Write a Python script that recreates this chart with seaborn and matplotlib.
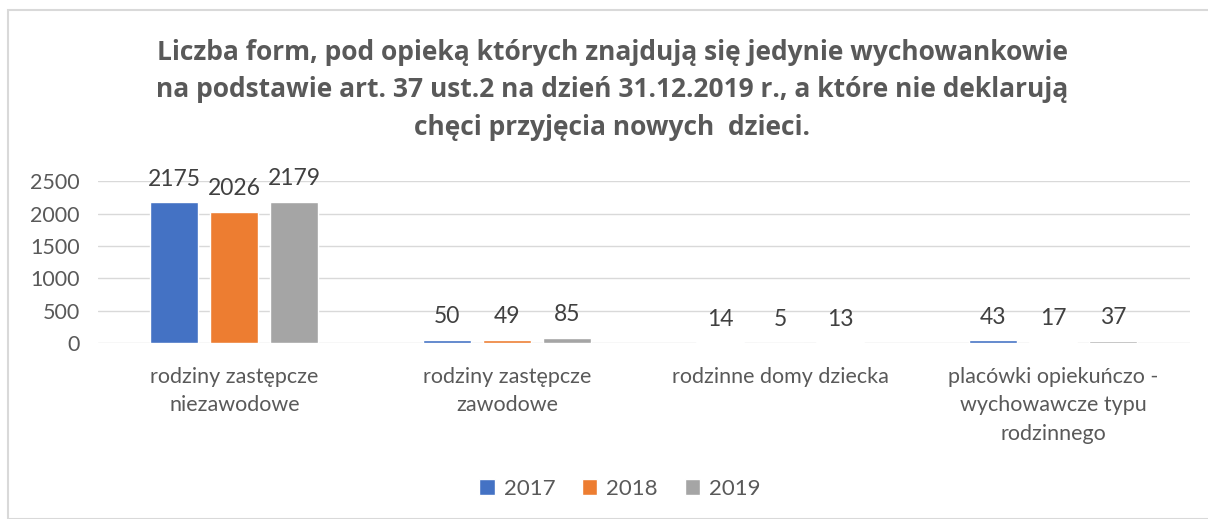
import matplotlib.pyplot as plt
import seaborn as sns
import pandas as pd
from matplotlib.patches import Rectangle

# data
categories = [
    "rodziny zastępcze\nniezawodowe",
    "rodziny zastępcze\nzawodowe",
    "rodzinne domy dziecka",
    "placówki opiekuńczo -\nwychowawcze typu\nrodzinnego",
]
years = ["2017", "2018", "2019"]
values_2017 = [2175, 50, 14, 43]
values_2018 = [2026, 49, 5, 17]
values_2019 = [2179, 85, 13, 37]
colors = ["#4472C4", "#ED7D31", "#A5A5A5"]

title = ("Liczba form, pod opieką których znajdują się jedynie wychowankowie\n"
         "na podstawie art. 37 ust.2 na dzień 31.12.2019 r., a które nie deklarują\n"
         "chęci przyjęcia nowych  dzieci.")

df = pd.DataFrame({
    "kategoria": categories * 3,
    "rok": [y for y in years for _ in categories],
    "liczba": values_2017 + values_2018 + values_2019,
})

sns.set_theme(style="white")
plt.rcParams["font.family"] = ["Lato", "DejaVu Sans"]
text_col = "#595959"

fig = plt.figure(figsize=(12.08, 5.19), dpi=100)
ax = fig.add_axes([0.081, 0.339, 0.904, 0.312])

sns.barplot(data=df, x="kategoria", y="liczba", hue="rok", palette=colors,
            width=0.66, gap=0.2, ax=ax, saturation=1, legend=True)

for c in ax.containers:
    ax.bar_label(c, padding=9, fontsize=16.5, color="#404040")

ax.set_ylim(0, 2500)
ax.set_yticks([0, 500, 1000, 1500, 2000, 2500])
ax.yaxis.grid(True, color="#D9D9D9", linewidth=1)
ax.set_axisbelow(True)
for s in ax.spines.values():
    s.set_visible(False)
ax.set_xlabel("")
ax.set_ylabel("")
ax.tick_params(axis="y", labelsize=15.5, labelcolor=text_col, length=0, pad=13)
ax.tick_params(axis="x", labelsize=15.5, labelcolor=text_col, length=0, pad=17)
for lbl in ax.get_xticklabels():
    lbl.set_linespacing(1.55)

ax.legend(loc="center", bbox_to_anchor=(0.478, -0.9),
          ncol=3, frameon=False, fontsize=16, handlelength=0.7, handleheight=0.7,
          columnspacing=1.2, handletextpad=0.4, labelcolor=text_col)

fig.text(0.507, 0.925, title, ha="center", va="top", fontsize=19,
         fontweight="bold", color=text_col, family=["Open Sans", "DejaVu Sans"],
         linespacing=1.5)

fig.patches.append(Rectangle((8 / 1208, 0), 1.0, 509 / 519, transform=fig.transFigure,
                             fill=False, edgecolor="#D9D9D9", linewidth=1.5))

fig.savefig("out.png", dpi=100)
